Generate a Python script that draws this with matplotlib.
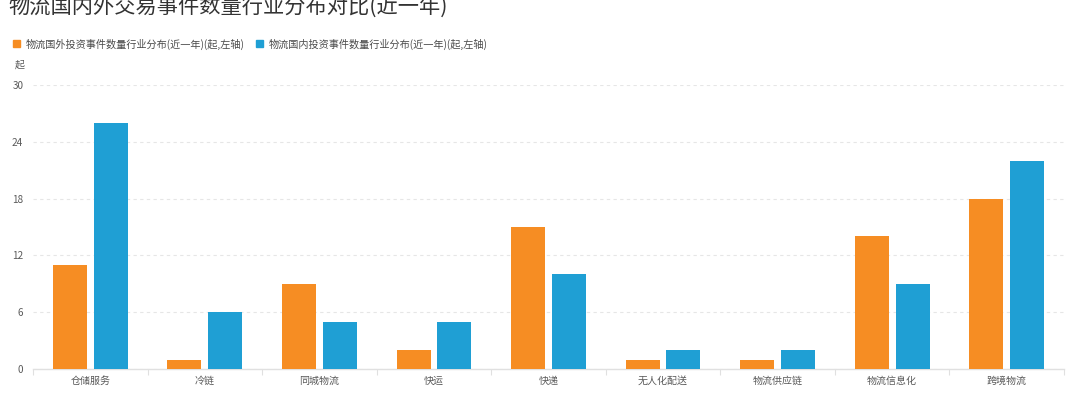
import matplotlib
matplotlib.use('agg')
import matplotlib.pyplot as plt
from matplotlib.patches import Patch
import numpy as np

plt.rcParams['font.family'] = ['Noto Sans CJK SC', 'DejaVu Sans']

categories = ['仓储服务', '冷链', '同城物流', '快运', '快递', '无人化配送', '物流供应链', '物流信息化', '跨境物流']
foreign = [11, 1, 9, 2, 15, 1, 1, 14, 18]
domestic = [26, 6, 5, 5, 10, 2, 2, 9, 22]
series_names = ['物流国外投资事件数量行业分布(近一年)(起,左轴)',
                '物流国内投资事件数量行业分布(近一年)(起,左轴)']
yticks = [0, 6, 12, 18, 24, 30]

c_orange = '#F68D23'
c_blue = '#1F9FD4'

fig = plt.figure(figsize=(10.8, 4.17), dpi=100)
ax = fig.add_axes([33 / 1080, 1 - 369 / 417, 1031 / 1080, 284 / 417])

x = np.arange(len(categories))
w = 0.296
off = 0.178
ax.bar(x - off, foreign, width=w, color=c_orange, zorder=3)
ax.bar(x + off, domestic, width=w, color=c_blue, zorder=3)

ax.set_xlim(-0.5, len(categories) - 0.5)
ax.set_ylim(0, 30)
ax.set_yticks(yticks)
ax.set_yticklabels([str(v) for v in yticks])
ax.set_xticks(x)
ax.set_xticklabels(categories)
ax.set_xticks(np.arange(-0.5, len(categories)), minor=True)
ax.tick_params(axis='x', which='major', length=0, pad=5, labelsize=7.2, labelcolor='#5a5a5a')
ax.tick_params(axis='x', which='minor', length=4, color='#E0E0E0', width=0.8)
ax.tick_params(axis='y', length=0, pad=7, labelsize=7.2, labelcolor='#5a5a5a')

for s in ['top', 'right', 'left']:
    ax.spines[s].set_visible(False)
ax.spines['bottom'].set_color('#E0E0E0')
ax.spines['bottom'].set_linewidth(1)
ax.yaxis.grid(True, linestyle=(0, (3, 3)), color='#E6E6E6', linewidth=0.8, zorder=0)
ax.set_axisbelow(True)

fig.text(8 / 1080, 1 - 7 / 417, '物流国内外交易事件数量行业分布对比(近一年)',
         fontsize=15.3, color='#333333', va='center', ha='left')
fig.text(15 / 1080, 1 - 65 / 417, '起', fontsize=7.2, color='#5a5a5a', va='center', ha='left')

handles = [Patch(color=c_orange), Patch(color=c_blue)]
fig.legend(handles, series_names, loc='center left', bbox_to_anchor=(4 / 1080, 1 - 44 / 417),
           ncol=2, frameon=False, fontsize=7.3, handlelength=0.7, handleheight=0.7,
           handletextpad=0.5, columnspacing=1.2, labelcolor='#4a4a4a')

fig.savefig('out.png', dpi=100)
